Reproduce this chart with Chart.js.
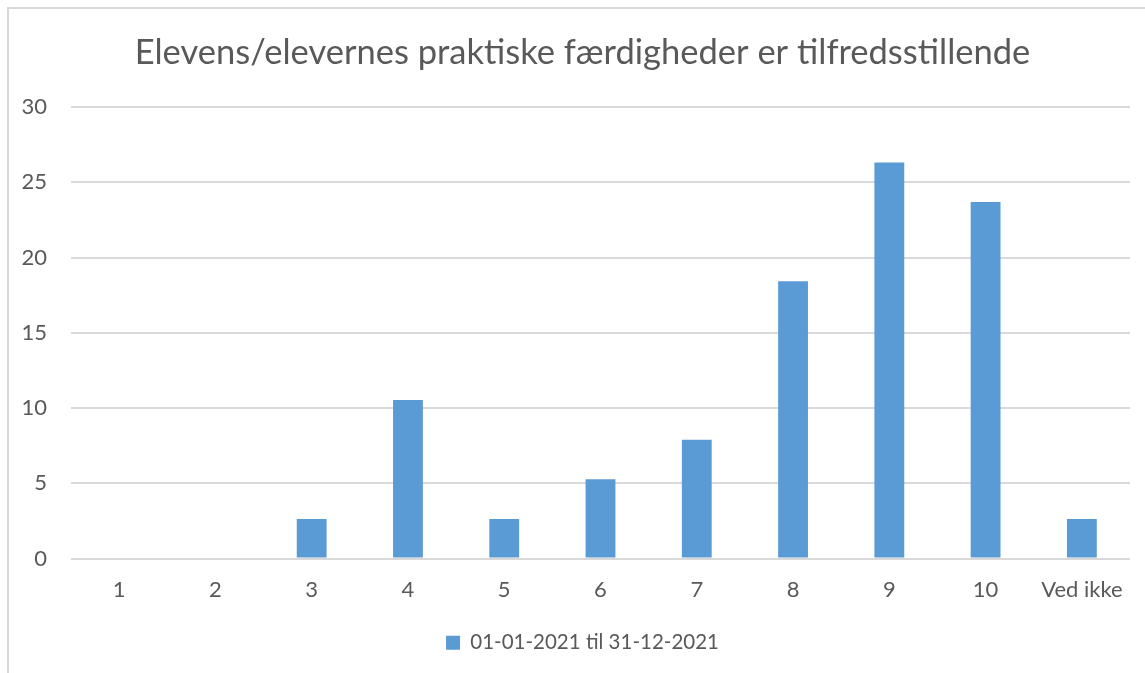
<!DOCTYPE html>
<html>
<head>
<meta charset="utf-8">
<script src="https://cdn.jsdelivr.net/npm/chart.js@4"></script>
<style>
    body { margin: 0; background: #fff; overflow: hidden; }
    #frame { position: absolute; left: 7px; top: 7px; width: 1200px; height: 700px; border: 2px solid #d9d9d9; box-sizing: border-box; }
    #wrap { position: absolute; left: 0; top: 0; width: 1145px; height: 673px; }
</style>
</head>
<body>
<div id="frame"></div>
<div id="wrap"><canvas id="chart" width="1145" height="673"></canvas></div>
<script>
const categories = ["1", "2", "3", "4", "5", "6", "7", "8", "9", "10", "Ved ikke"];
const values = [0, 0, 2.63, 10.53, 2.63, 5.26, 7.89, 18.42, 26.32, 23.68, 2.63];
const seriesName = "01-01-2021 til 31-12-2021";
const titleText = "Elevens/elevernes praktiske færdigheder er tilfredsstillende";

const textColor = "#595959";
const font = "Lato";

// title and legend are centred a bit right of the canvas middle in the original
const shiftCenter = {
    id: "shiftCenter",
    afterLayout(chart) {
        chart.titleBlock.left = 35;
        chart.legend.left = 35;
    },
};

new Chart(document.getElementById("chart"), {
    type: "bar",
    data: {
        labels: categories,
        datasets: [
            {
                label: seriesName,
                data: values,
                backgroundColor: "#5b9bd5",
                categoryPercentage: 1,
                barPercentage: 0.31,
            },
        ],
    },
    plugins: [shiftCenter],
    options: {
        responsive: false,
        animation: false,
        devicePixelRatio: 1,
        layout: { padding: { left: 0, right: 15, top: 0, bottom: 10 } },
        plugins: {
            title: {
                display: true,
                text: titleText,
                color: textColor,
                font: { family: font, size: 34.5, weight: "normal" },
                padding: { top: 32, bottom: 33.6 },
            },
            legend: {
                position: "bottom",
                labels: {
                    color: textColor,
                    font: { family: font, size: 20.5 },
                    boxWidth: 14,
                    boxHeight: 14,
                    padding: 10,
                },
            },
            tooltip: { enabled: false },
        },
        scales: {
            x: {
                afterFit: (axis) => { axis.height = 64; },
                grid: { display: false, drawTicks: false },
                border: { display: false },
                ticks: { color: textColor, font: { family: font, size: 22 }, padding: 18, maxRotation: 0 },
            },
            y: {
                min: 0,
                max: 30,
                afterFit: (axis) => { axis.width = 71; },
                grid: { color: "#d9d9d9", lineWidth: 2, drawTicks: false },
                border: { display: false },
                ticks: { stepSize: 5, color: textColor, font: { family: font, size: 22 }, padding: 24 },
            },
        },
    },
});
</script>
</body>
</html>
